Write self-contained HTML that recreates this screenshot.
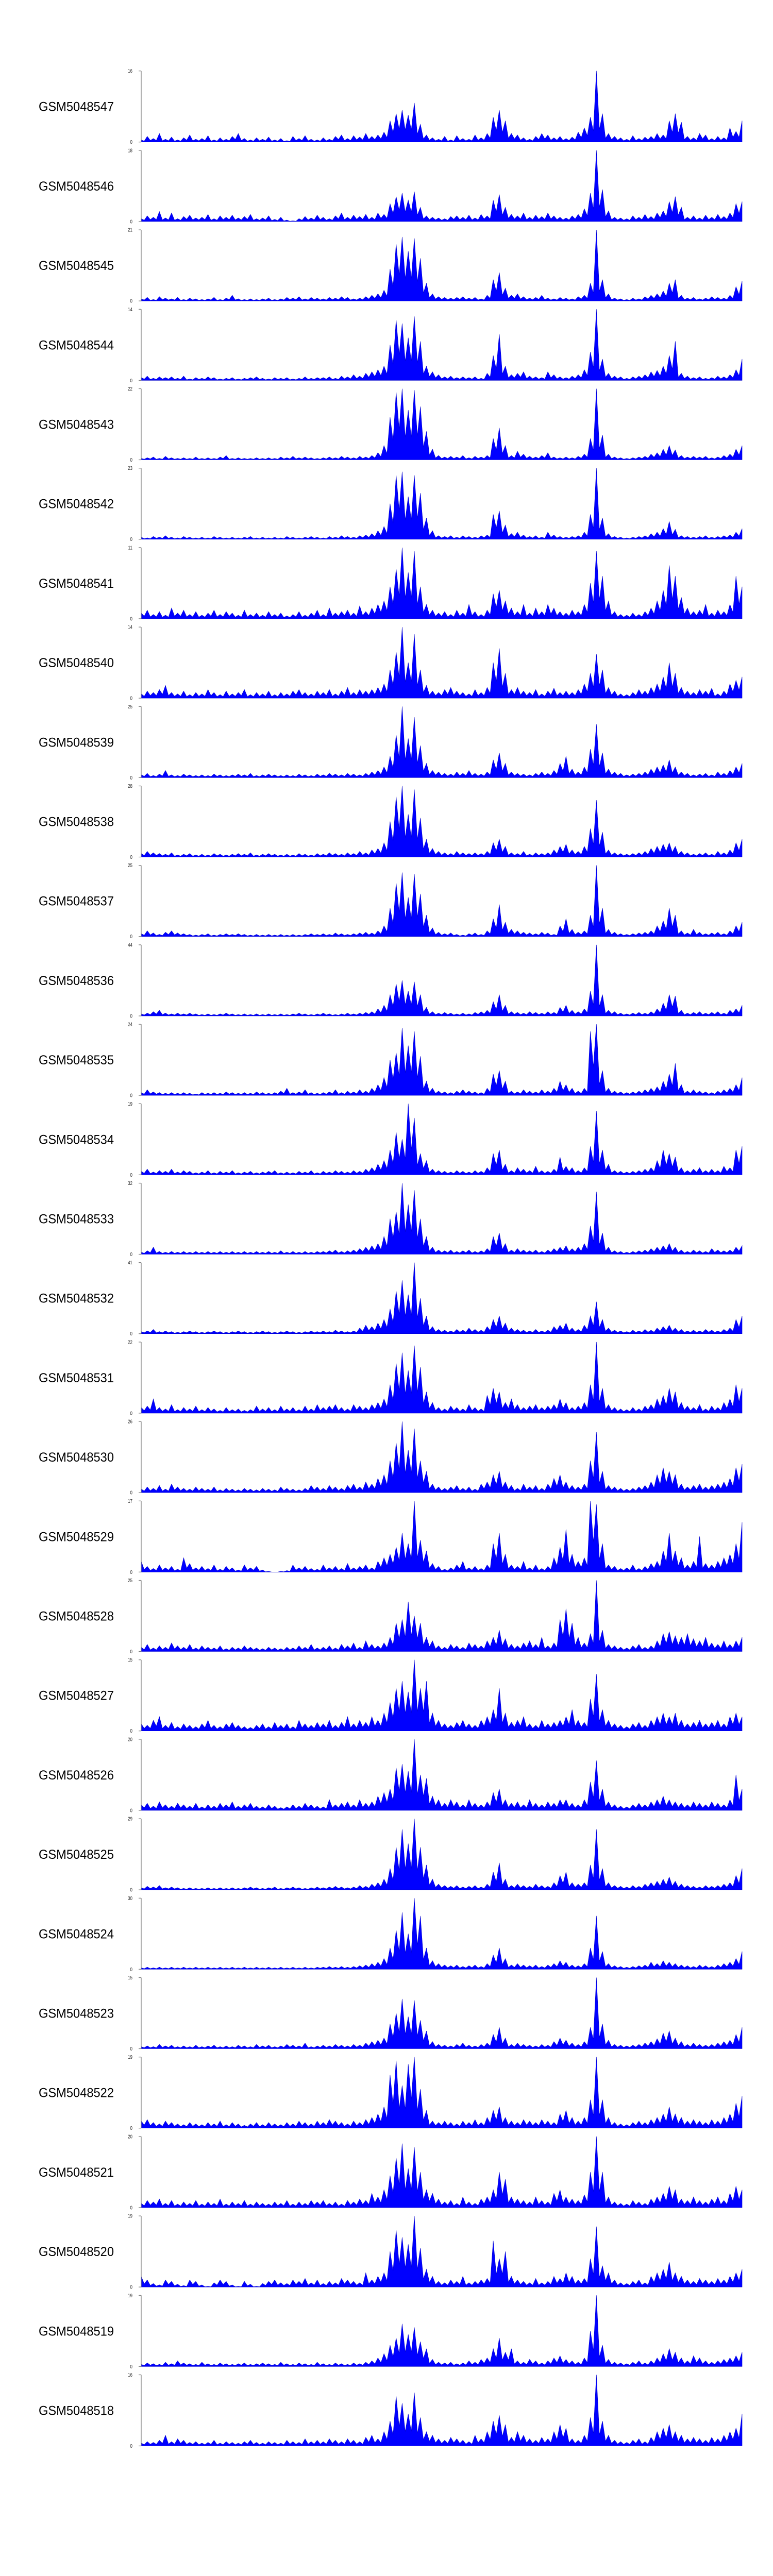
<!DOCTYPE html>
<html><head><meta charset="utf-8">
<style>
html,body{margin:0;padding:0;background:#fff;width:1500px;height:5400px;overflow:hidden;}
svg{display:block;}
</style></head>
<body>
<svg id="chart" width="1500" height="5400" viewBox="0 0 1500 5400" xmlns="http://www.w3.org/2000/svg" style="font-family:'Liberation Sans',sans-serif">
<g id="tracks"></g>
<g id="genome-axis"></g>
</svg>
<script>
const samples = ["GSM5048547","GSM5048546","GSM5048545","GSM5048544","GSM5048543","GSM5048542","GSM5048541","GSM5048540","GSM5048539","GSM5048538","GSM5048537","GSM5048536","GSM5048535","GSM5048534","GSM5048533","GSM5048532","GSM5048531","GSM5048530","GSM5048529","GSM5048528","GSM5048527","GSM5048526","GSM5048525","GSM5048524","GSM5048523","GSM5048522","GSM5048521","GSM5048520","GSM5048519","GSM5048518"];
const maxLabels = [16,18,21,14,22,23,11,14,25,28,25,44,24,19,32,41,22,26,17,25,15,20,29,30,15,19,20,19,19,16];
const t1=[3,8,5,12,4,7,3,6,10,4,5,9,3,6,4,8,12,5,3,6,4,7,3,5,2,8,5,9,4,3,6,4,8,10,5,9,7,12,8,10,14,30,40,45,38,55,25,10,6,4,8,3,9,5,4,10,6,12,35,45,30,12,10,6,4,8,12,10,6,8,5,7,14,20,35,100,40,12,8,6,4,9,5,7,8,12,10,30,40,28,8,6,12,10,5,8,6,20,15,30];
const t2=[4,8,6,14,5,12,4,7,9,5,6,10,4,8,6,9,5,7,10,4,5,8,3,6,2,1,4,7,5,9,6,4,8,12,6,9,7,10,6,12,10,25,35,40,30,42,20,8,6,5,4,7,8,6,9,5,10,8,30,38,20,10,8,12,6,9,7,12,8,6,5,8,10,18,40,100,45,15,6,5,4,8,6,10,7,12,15,28,35,20,6,8,5,9,6,10,7,12,25,28];
const t3=[3,5,2,6,4,3,5,2,4,3,2,3,5,2,4,8,3,2,3,2,3,4,2,3,5,4,6,3,5,4,3,5,4,6,5,3,4,6,8,10,15,45,80,90,70,88,60,25,10,6,5,4,5,6,4,5,3,8,30,40,18,8,10,6,4,5,8,4,3,5,4,3,6,8,25,100,30,10,4,3,2,4,3,6,8,10,14,25,30,8,4,5,3,4,6,5,4,8,20,28];
const t4=[4,6,3,5,4,5,3,6,2,4,3,5,4,2,3,4,2,3,4,5,3,2,4,3,4,2,3,5,3,4,4,5,3,6,5,8,6,10,12,15,20,50,85,80,60,90,55,20,12,8,5,6,4,5,4,5,3,10,35,65,20,8,10,12,6,5,4,12,8,5,4,6,8,15,40,100,30,10,6,5,3,5,6,8,12,14,20,35,55,10,6,4,5,3,4,6,5,8,15,30];
const t5=[2,3,4,2,5,3,2,3,2,4,2,3,2,4,6,2,3,2,2,3,2,3,2,4,3,5,3,4,3,2,3,4,3,5,4,3,5,4,6,10,20,60,95,100,70,98,75,40,15,6,4,5,4,6,3,5,4,6,30,45,20,6,12,8,5,4,6,10,4,3,4,3,5,8,30,100,35,8,4,3,2,3,4,5,8,10,15,20,14,6,4,5,4,5,3,4,6,8,15,20];
const t6=[3,2,4,3,5,3,2,4,3,2,3,2,4,3,2,3,2,3,4,2,3,2,3,2,4,3,2,3,4,3,2,4,3,5,4,3,5,6,8,12,18,50,90,95,60,90,65,30,12,5,4,5,3,5,4,3,5,6,35,40,20,8,10,6,4,5,3,10,6,4,3,4,5,10,35,100,30,8,4,3,2,3,4,5,8,10,15,25,14,5,4,3,4,5,3,4,5,6,10,15];
const t7=[8,12,6,10,5,15,8,12,6,10,5,8,12,6,10,8,5,12,6,8,5,10,6,8,4,6,10,5,8,12,6,15,8,10,12,8,18,10,15,20,25,45,70,100,65,95,45,20,12,8,10,6,12,8,20,10,6,12,35,40,25,15,10,20,8,15,10,20,15,10,8,12,10,20,50,95,60,25,10,6,5,8,6,10,15,25,40,75,60,30,15,10,12,20,8,12,10,20,60,45];
const t8=[6,10,8,12,18,8,6,10,5,8,6,12,8,5,10,6,8,12,5,8,6,10,5,8,6,10,12,8,6,10,8,12,6,10,15,8,12,10,12,15,20,40,65,100,50,90,40,18,10,8,12,15,10,8,6,12,8,15,50,70,35,12,15,10,8,12,6,10,14,8,10,8,12,20,35,62,40,15,10,6,5,8,12,10,15,20,30,50,35,15,10,8,12,10,14,6,10,20,25,30];
const t9=[4,6,3,5,10,4,3,5,4,3,4,3,5,4,3,4,5,4,6,3,4,5,4,3,4,3,5,4,3,5,4,6,5,4,6,5,4,6,8,10,15,30,60,100,55,85,45,20,10,8,6,5,8,6,10,6,5,8,25,35,20,8,6,5,4,6,8,6,10,20,30,12,8,15,40,75,35,12,8,6,4,5,6,8,12,15,18,25,15,8,6,4,5,6,4,8,6,10,15,20];
const t10=[5,8,6,5,4,6,3,4,5,3,4,3,5,4,3,4,5,4,6,3,4,5,4,3,4,3,5,4,3,5,4,6,5,4,6,5,8,6,10,12,20,50,85,100,60,95,55,25,12,8,6,5,8,6,5,6,5,8,20,25,15,6,5,8,4,6,5,6,10,15,18,10,8,15,40,80,35,10,6,5,4,5,6,8,12,15,18,20,15,8,6,4,5,6,4,8,6,10,20,25];
const t11=[4,8,5,3,6,8,5,4,3,2,3,4,2,3,4,3,4,3,2,3,2,3,2,3,2,3,2,3,4,3,4,3,5,4,3,4,5,6,5,8,15,40,75,90,55,88,60,30,12,6,4,5,3,2,4,5,3,8,25,45,20,10,8,6,5,4,6,5,3,15,25,10,6,8,30,100,40,10,6,4,3,4,5,6,8,15,22,40,30,8,5,10,6,4,5,6,4,8,15,20];
const t12=[3,4,6,8,4,3,4,3,4,3,2,3,2,3,4,3,2,3,2,3,2,3,2,3,2,3,4,3,2,3,4,3,2,3,4,3,4,5,6,10,15,30,45,50,35,48,30,12,6,4,5,4,3,4,3,5,6,8,20,30,15,6,5,4,6,5,4,6,5,12,15,8,6,10,35,100,30,8,6,4,3,4,5,4,6,10,18,30,28,8,4,5,6,4,5,6,4,8,10,15];
const t13=[4,8,5,4,3,4,3,4,3,2,4,3,4,3,5,4,3,4,3,5,4,3,4,6,10,4,5,8,4,3,4,5,8,4,6,5,8,6,10,15,25,50,60,95,70,90,55,20,10,6,5,4,6,8,6,5,4,10,30,35,20,6,5,8,6,5,8,6,10,20,15,10,6,10,90,100,35,10,6,5,4,5,6,8,10,12,20,30,45,15,6,8,6,5,4,6,8,10,15,25];
const t14=[5,8,4,6,5,8,4,6,5,3,4,6,3,5,4,6,3,4,5,3,4,5,6,3,4,3,5,4,6,3,5,4,6,5,4,6,5,8,10,15,20,35,60,50,100,80,30,20,8,6,5,4,6,5,4,6,5,10,30,35,15,6,10,8,6,12,6,5,8,25,12,10,6,10,40,90,35,15,6,5,4,5,6,8,10,20,35,30,25,10,6,8,10,6,8,6,12,10,35,40];
const t15=[3,5,10,4,3,4,3,4,3,4,3,4,3,4,3,4,3,4,3,4,3,4,3,5,3,4,3,4,3,4,4,5,6,4,5,6,8,10,12,15,25,50,60,100,70,90,50,25,10,6,5,6,4,5,6,4,5,8,25,30,15,6,8,6,5,6,4,6,8,10,12,8,10,15,40,88,30,10,5,4,3,4,5,6,8,10,12,15,10,6,4,6,5,4,8,6,5,6,10,12];
const t16=[3,4,6,3,4,3,2,3,4,3,2,3,4,3,2,3,4,3,2,3,4,3,2,3,4,3,2,3,4,3,4,3,5,4,3,4,8,12,10,15,20,35,60,75,55,100,50,25,10,6,5,4,6,5,8,6,5,10,20,25,15,8,6,5,4,6,4,5,10,12,15,8,6,12,25,45,20,8,5,4,3,5,4,6,5,8,10,12,8,6,4,5,4,6,5,4,6,8,20,25];
const t17=[8,10,20,8,6,12,5,8,6,10,5,8,6,4,8,5,6,4,5,10,6,8,5,10,6,8,5,10,6,12,8,10,12,8,6,12,10,8,12,15,20,40,70,85,60,95,65,30,15,8,6,10,8,6,12,8,6,25,35,30,15,20,12,8,10,12,8,10,12,20,15,8,10,15,40,100,35,12,8,6,5,8,6,10,12,20,25,35,30,15,10,8,12,6,10,8,15,20,40,35];
const t18=[5,8,6,10,5,12,8,6,5,8,6,5,8,4,6,5,4,6,5,4,6,5,4,8,6,5,4,6,10,8,6,10,8,6,10,12,8,15,12,20,25,45,70,100,60,90,45,30,12,8,6,8,10,6,8,5,12,15,25,30,15,10,6,12,8,10,6,12,20,25,15,10,8,12,45,85,30,10,8,6,5,6,8,10,15,25,35,30,25,12,8,10,12,8,10,12,15,20,35,40];
const t19=[15,8,5,10,6,8,4,20,12,6,8,5,10,4,8,6,3,10,6,8,3,1,0,1,2,10,6,8,5,4,10,6,8,5,12,6,8,10,6,15,20,25,35,55,40,100,45,30,12,8,4,6,10,15,6,8,5,10,40,55,25,10,8,15,6,10,5,8,20,35,60,25,15,20,100,95,40,10,8,5,6,10,5,8,12,15,30,55,30,20,10,15,50,12,10,15,20,25,40,70];
const t20=[6,10,5,8,6,12,8,6,10,5,8,6,5,8,4,6,5,8,6,5,4,6,5,4,6,5,8,6,10,5,6,8,5,10,8,12,6,15,10,8,12,20,40,45,70,50,40,20,15,8,6,10,8,6,12,10,8,15,20,30,18,10,8,12,15,10,20,8,12,45,60,40,20,12,25,100,30,10,8,6,5,8,10,6,8,15,25,28,22,20,25,18,15,20,12,10,15,10,15,20];
const t21=[10,8,15,20,8,12,6,10,8,6,10,15,8,6,10,12,8,6,5,8,10,6,12,8,10,6,15,10,8,12,10,15,8,12,20,10,15,12,20,15,25,40,60,70,55,100,60,70,25,15,10,8,12,15,10,8,15,20,30,60,25,12,15,20,10,8,15,10,12,15,20,30,15,12,45,80,30,15,10,8,6,10,12,8,15,20,25,20,25,15,10,12,15,10,12,15,10,20,25,20];
const t22=[8,10,6,12,8,6,10,8,6,10,5,8,6,10,8,12,6,8,10,6,5,8,6,4,5,8,6,10,8,6,5,15,8,10,12,8,15,10,12,20,25,30,60,65,55,100,50,45,20,15,10,15,12,8,15,10,8,12,25,30,15,10,12,8,15,10,8,12,10,15,15,10,8,15,40,70,30,12,8,6,5,8,10,8,12,15,20,15,12,10,8,12,10,8,12,10,8,15,50,30];
const t23=[3,5,4,6,3,4,3,2,3,2,2,3,2,3,2,3,2,3,4,3,2,3,4,2,3,4,3,2,3,4,3,4,5,4,3,4,6,5,8,10,15,30,60,85,65,100,60,35,15,8,6,5,6,4,5,6,4,8,25,38,15,6,8,6,5,8,6,5,10,20,25,10,8,10,35,85,30,10,6,5,4,6,5,8,10,12,15,18,12,8,6,5,4,6,5,6,8,10,20,30];
const t24=[2,3,2,3,2,3,2,3,2,3,2,3,2,3,2,3,2,3,2,3,2,3,2,3,2,3,2,3,2,3,3,4,3,4,3,4,5,6,8,10,15,30,55,80,50,100,75,30,12,8,6,5,6,4,5,6,4,8,20,30,15,6,8,6,5,6,4,6,8,12,10,6,5,8,30,75,25,8,5,4,3,4,5,6,10,8,12,10,8,6,5,4,6,5,4,6,8,10,15,25];
const t25=[3,4,3,6,4,5,3,4,3,5,3,4,5,3,4,3,5,4,3,6,4,5,3,4,6,5,4,8,3,4,5,4,6,5,4,6,5,8,10,12,15,35,50,70,45,68,40,25,10,6,5,4,6,8,5,4,6,8,20,30,15,6,8,6,5,4,6,5,10,15,12,8,6,10,30,100,35,12,6,5,4,5,6,8,10,14,22,25,15,10,6,8,6,5,6,8,10,12,20,30];
const t26=[10,12,8,6,10,8,6,5,8,6,5,8,6,10,5,8,6,4,6,8,5,8,6,5,8,6,10,8,6,10,8,12,10,8,6,10,8,12,15,20,30,75,95,60,90,100,55,25,10,8,10,8,6,10,8,12,8,15,25,30,15,10,8,12,10,8,12,10,8,20,25,15,10,15,40,100,40,15,8,6,5,8,10,8,12,15,20,30,20,15,10,12,10,8,12,10,15,20,35,45];
const t27=[6,10,8,12,6,10,5,8,6,10,5,8,6,12,5,8,6,10,5,8,6,5,8,6,10,5,8,6,10,8,10,6,8,5,10,8,12,10,20,15,25,45,70,90,55,85,50,25,20,12,8,10,6,15,8,6,12,15,25,50,40,15,12,10,8,15,10,8,20,25,15,12,10,18,50,100,50,15,8,6,5,10,8,6,12,15,20,30,25,12,10,15,10,8,12,15,10,20,30,25];
const t28=[15,10,5,3,10,8,4,2,10,8,3,1,6,10,8,3,1,8,4,1,5,8,10,6,5,10,8,12,6,10,5,8,6,12,10,8,6,20,10,15,20,50,80,70,60,100,55,25,15,8,6,10,8,15,6,8,10,12,65,40,50,15,10,8,6,12,6,8,15,12,20,15,10,12,40,85,30,20,10,6,5,8,10,6,15,20,25,35,20,15,10,8,12,10,8,12,10,15,20,25];
const t29=[3,5,4,3,6,4,8,5,4,3,6,4,3,5,4,3,4,5,3,4,5,4,3,6,4,3,5,4,3,6,4,3,5,4,3,5,4,6,8,12,18,30,40,60,45,55,35,25,10,6,5,6,4,5,8,6,10,12,25,40,20,25,8,6,10,8,5,8,12,15,10,8,6,12,50,100,30,10,6,5,4,6,8,5,8,12,18,25,20,12,8,15,12,8,6,8,10,12,15,20];
const t30=[4,6,5,8,15,6,10,8,5,6,4,5,8,4,6,5,4,6,8,5,4,6,5,4,8,6,5,10,6,8,6,10,8,6,10,8,6,12,15,10,20,35,70,60,45,75,40,20,15,10,8,12,10,8,6,15,10,20,35,43,30,12,20,15,10,8,12,10,20,30,25,10,8,15,40,100,35,15,8,6,5,8,10,6,12,20,25,30,20,15,10,12,10,8,12,10,15,20,25,45];
const trackValues=[t1,t2,t3,t4,t5,t6,t7,t8,t9,t10,t11,t12,t13,t14,t15,t16,t17,t18,t19,t20,t21,t22,t23,t24,t25,t26,t27,t28,t29,t30];
const majorTicks=[11.43,11.44,11.45,11.46,11.47,11.48];
const majorTickLabels=["11.43Mb","11.44Mb","11.45Mb","11.46Mb","11.47Mb","11.48Mb"];

const NS="http://www.w3.org/2000/svg";
const PL=274, PR=1440, TOP0=137.7, PITCH=154.2, TH=138;
const domainStart=11.42143, domainEnd=11.48165;
function xGenome(mb){return PL+(mb-domainStart)/(domainEnd-domainStart)*(PR-PL);}
function mk(tag,attrs,parent){const e=document.createElementNS(NS,tag);for(const k in attrs)e.setAttribute(k,attrs[k]);parent.appendChild(e);return e;}

const tg=document.getElementById('tracks');
trackValues.forEach((vals,ti)=>{
  const top=TOP0+ti*PITCH, base=top+TH;
  const g=mk('g',{},tg);
  
  
  const lab=mk('text',{x:75,y:top+TH/2+9,'font-size':25,textLength:146,lengthAdjust:'spacingAndGlyphs',fill:'#000'},g);
  lab.textContent=samples[ti];
  
  
  const n=vals.length;
  const xv=i=>PL+i*(PR-PL)/(n-1);
  const yv=v=>base-v/100*TH;
  let d='M'+PL+','+base;
  vals.forEach((v,i)=>{
    d+=' L'+xv(i).toFixed(1)+','+yv(v).toFixed(1);
    if(i<n-1){
      const mid=Math.min(v,vals[i+1])*0.45;
      d+=' L'+((xv(i)+xv(i+1))/2).toFixed(1)+','+yv(mid).toFixed(1);
    }
  });
  d+=' L'+PR+','+base+' Z';
  const area=mk('path',{d:d,fill:'#0000ff',stroke:'#0000cc','stroke-width':0.6},g);
  
  
  const ax=mk('g',{stroke:'#777','stroke-width':1.2},g);
  
  
  mk('line',{x1:PL,y1:top,x2:PL,y2:base},ax);
  mk('line',{x1:PL-5,y1:top,x2:PL,y2:top},ax);
  mk('line',{x1:PL-5,y1:base,x2:PL,y2:base},ax);
  const tmax=mk('text',{x:257,y:top+3.5,'font-size':10,'text-anchor':'end',fill:'#222',transform:'translate(257,0) scale(0.8,1) translate(-257,0)'},g);
  tmax.textContent=String(maxLabels[ti]);
  
  
  const t0=mk('text',{x:257,y:base+3.5,'font-size':10,'text-anchor':'end',fill:'#222',transform:'translate(257,0) scale(0.8,1) translate(-257,0)'},g);
  t0.textContent='0';
  
  
});

const ag=document.getElementById('genome-axis');
const chr=mk('text',{x:90,y:5090,'font-size':46,textLength:94,lengthAdjust:'spacingAndGlyphs',fill:'#000'},ag);
chr.textContent='chr8';


const l1=mk('line',{x1:PL,y1:5037,x2:PR,y2:5037,stroke:'#666','stroke-width':1.5},ag);


const l2=mk('line',{x1:PL,y1:5108,x2:PR,y2:5108,stroke:'#888','stroke-width':3},ag);


for(let kb=11422;kb<=11481;kb+=2){
  const x=xGenome(kb/1000);
  const tk=mk('line',{x1:x,y1:5108,x2:x,y2:5142,stroke:'#333','stroke-width':0.8},ag);
  
  
}
majorTicks.forEach((m,i)=>{
  const x=xGenome(m);
  const tk=mk('line',{x1:x,y1:5108,x2:x,y2:5192,stroke:'#333','stroke-width':0.8},ag);
  
  
  const t=mk('text',{x:x,y:5211,'font-size':21,'text-anchor':'middle',textLength:92,lengthAdjust:'spacingAndGlyphs',fill:'#000'},ag);
  t.textContent=majorTickLabels[i];
  
  
});
</script>
</body></html>
